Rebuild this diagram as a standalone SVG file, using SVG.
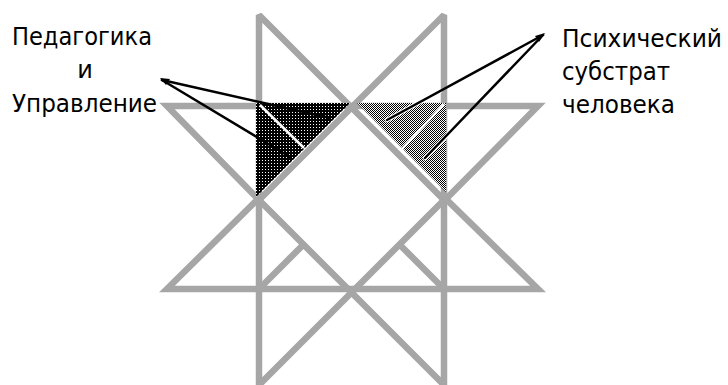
<svg xmlns="http://www.w3.org/2000/svg" width="728" height="385" viewBox="0 0 728 385">
  <style>
    .g { stroke: #a6a6a6; stroke-width: 6.5; fill: none; stroke-linejoin: miter; stroke-miterlimit: 4; }
    .gb { stroke: #a6a6a6; stroke-width: 6.5; fill: none; stroke-linejoin: bevel; }
    .gs { stroke: #a6a6a6; stroke-width: 6.5; fill: none; }
    .w { stroke: #ffffff; stroke-width: 2.5; fill: none; }
    .p { stroke: #000000; stroke-width: 2.5; fill: none; stroke-linecap: round; }
    .halo { stroke: #ffffff; stroke-width: 4.5; fill: none; stroke-linecap: round; }
    .t { font-family: "DejaVu Sans", "Liberation Sans", sans-serif; font-size: 24px; fill: #000; }
  </style>
  <defs>
    <pattern id="dark" width="3" height="3" patternUnits="userSpaceOnUse">
      <rect width="3" height="3" fill="#000"/>
      <rect x="1" y="1" width="1" height="1" fill="#fff"/>
    </pattern>
    <pattern id="light" width="2" height="2" patternUnits="userSpaceOnUse">
      <rect width="2" height="2" fill="#fff"/>
      <rect x="0" y="0" width="1" height="1" fill="#000"/>
      <rect x="1" y="1" width="1" height="1" fill="#000"/>
    </pattern>
  </defs>

  <g id="star">
    <polygon class="gb" points="259,15 444,200 259,385"/>
    <polygon class="gb" points="444,15 259,200 444,385"/>
    <polygon class="g" points="167,106 538,106 446,199 538,289 167,289 258,199"/>
    <line class="gs" x1="262" y1="286" x2="303" y2="245"/>
    <line class="gs" x1="400" y1="245" x2="441" y2="286"/>
  </g>

  <g id="triangle-dark">
    <polygon points="256,103 350,103 256,197" fill="url(#dark)"/>
    <line class="w" x1="260" y1="105" x2="304" y2="148"/>
  </g>

  <g id="triangle-light">
    <polygon points="357,103 446,103 446,192" fill="url(#light)"/>
    <line class="w" x1="444" y1="104" x2="401" y2="150"/>
  </g>

  <g id="connectors">
    <line class="p" x1="162" y1="80" x2="330" y2="118"/>
    <line class="p" x1="162" y1="80" x2="290" y2="157"/>
    <polygon points="160,78 170,79 166,85" fill="#000"/>
    <line class="halo" x1="440" y1="91" x2="387" y2="120"/>
    <line class="halo" x1="458" y1="124" x2="425" y2="158"/>
    <line class="p" x1="543" y1="35" x2="387" y2="120"/>
    <line class="p" x1="543" y1="35" x2="425" y2="158"/>
    <polygon points="545,33 535,36 539,42" fill="#000"/>
  </g>

  <g id="label-left">
    <text class="t" x="12" y="45" textLength="140" lengthAdjust="spacingAndGlyphs">Педагогика</text>
    <text class="t" x="85" y="78" text-anchor="middle">и</text>
    <text class="t" x="12" y="112" textLength="145" lengthAdjust="spacingAndGlyphs">Управление</text>
  </g>

  <g id="label-right">
    <text class="t" x="562" y="47" textLength="160" lengthAdjust="spacingAndGlyphs">Психический</text>
    <text class="t" x="562" y="80" textLength="108" lengthAdjust="spacingAndGlyphs">субстрат</text>
    <text class="t" x="562" y="113" textLength="113" lengthAdjust="spacingAndGlyphs">человека</text>
  </g>
</svg>
